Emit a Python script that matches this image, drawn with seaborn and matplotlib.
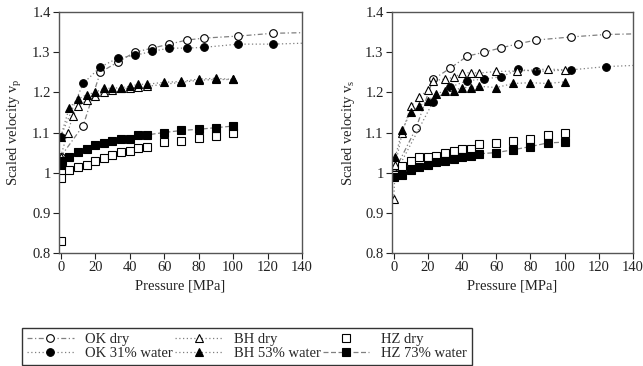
import matplotlib
matplotlib.use("Agg")
import matplotlib.pyplot as plt
import seaborn as sns
import numpy as np
import pandas as pd
from matplotlib.ticker import FuncFormatter, MultipleLocator

# ---------------- data: left panel (vp) ----------------
p_ok_dry = [0, 13, 23, 33, 43, 53, 63, 73, 83, 103, 123, 146]
vp_ok_dry = [1.04, 1.117, 1.25, 1.275, 1.30, 1.31, 1.32, 1.33, 1.335, 1.34, 1.347, 1.349]
p_ok_wet = [0, 13, 23, 33, 43, 53, 63, 73, 83, 103, 123, 146]
vp_ok_wet = [1.09, 1.222, 1.263, 1.285, 1.292, 1.302, 1.31, 1.31, 1.312, 1.32, 1.32, 1.323]
p_bh_dry = [0, 4, 7, 10, 15, 20, 25, 30, 35, 40, 45, 50, 70, 80, 90, 100]
vp_bh_dry = [1.04, 1.10, 1.14, 1.165, 1.18, 1.19, 1.20, 1.205, 1.21, 1.21, 1.213, 1.215, 1.225, 1.23, 1.232, 1.232]
p_bh_wet = [0, 5, 10, 15, 20, 25, 30, 35, 40, 45, 50, 60, 70, 80, 90, 100]
vp_bh_wet = [1.09, 1.162, 1.183, 1.194, 1.20, 1.21, 1.21, 1.212, 1.215, 1.22, 1.22, 1.225, 1.227, 1.233, 1.235, 1.232]
p_hz_dry = [0, 0, 5, 10, 15, 20, 25, 30, 35, 40, 45, 50, 60, 70, 80, 90, 100]
vp_hz_dry = [0.829, 0.987, 1.007, 1.013, 1.02, 1.028, 1.036, 1.044, 1.051, 1.055, 1.061, 1.065, 1.076, 1.08, 1.086, 1.092, 1.10]
p_hz_wet = [0, 1, 5, 10, 15, 20, 25, 30, 35, 40, 45, 50, 60, 70, 80, 90, 100]
vp_hz_wet = [1.02, 1.028, 1.039, 1.051, 1.059, 1.07, 1.075, 1.079, 1.084, 1.084, 1.094, 1.094, 1.10, 1.105, 1.108, 1.112, 1.116]

# ---------------- data: right panel (vs) ----------------
ps_ok_dry = [0, 13, 23, 33, 43, 53, 63, 73, 83, 104, 124, 146]
vs_ok_dry = [1.00, 1.11, 1.232, 1.26, 1.29, 1.30, 1.311, 1.321, 1.33, 1.338, 1.344, 1.346]
ps_ok_wet = [0, 23, 33, 43, 53, 63, 73, 83, 104, 124, 146]
vs_ok_wet = [0.99, 1.176, 1.213, 1.229, 1.233, 1.239, 1.257, 1.252, 1.256, 1.264, 1.268]
ps_bh_dry = [0, 1, 5, 10, 15, 20, 23, 30, 35, 40, 45, 50, 60, 72, 90, 100]
vs_bh_dry = [0.934, 1.02, 1.10, 1.165, 1.188, 1.206, 1.229, 1.233, 1.237, 1.248, 1.249, 1.248, 1.252, 1.253, 1.258, 1.256]
ps_bh_wet = [1, 5, 10, 15, 20, 25, 30, 35, 40, 45, 50, 60, 70, 80, 90, 100]
vs_bh_wet = [1.04, 1.106, 1.152, 1.166, 1.179, 1.196, 1.204, 1.204, 1.212, 1.212, 1.215, 1.212, 1.222, 1.224, 1.222, 1.226]
ps_hz_dry = [0, 5, 10, 15, 20, 25, 30, 35, 40, 45, 50, 60, 70, 80, 90, 100]
vs_hz_dry = [0.995, 1.016, 1.03, 1.039, 1.04, 1.042, 1.049, 1.055, 1.059, 1.06, 1.071, 1.075, 1.08, 1.084, 1.093, 1.10]
ps_hz_wet = [0, 5, 10, 15, 20, 25, 30, 35, 40, 45, 50, 60, 70, 80, 90, 100]
vs_hz_wet = [0.989, 0.993, 1.007, 1.013, 1.02, 1.026, 1.03, 1.035, 1.038, 1.042, 1.047, 1.05, 1.057, 1.065, 1.074, 1.076]

labels = ["OK dry", "OK 31% water", "BH dry", "BH 53% water", "HZ dry", "HZ 73% water"]
x_ticks = [0, 20, 40, 60, 80, 100, 120, 140]
y_ticks = [0.8, 0.9, 1.0, 1.1, 1.2, 1.3, 1.4]

sns.set_theme(style="ticks")
plt.rcParams["font.family"] = ["Liberation Serif", "DejaVu Serif"]
plt.rcParams["mathtext.fontset"] = "custom"
plt.rcParams["mathtext.rm"] = "Liberation Serif"
plt.rcParams["mathtext.it"] = "Liberation Serif"

styles = [
    dict(marker="o", linestyle=(0, (4, 2, 1, 2)), mfc="white"),
    dict(marker="o", linestyle=(0, (1, 2)), mfc="black"),
    dict(marker="^", linestyle=(0, (1, 2)), mfc="white"),
    dict(marker="^", linestyle=(0, (1, 2)), mfc="black"),
    dict(marker="s", linestyle="none", mfc="white"),
    dict(marker="s", linestyle=(0, (4, 2)), mfc="black"),
]

fig = plt.figure(figsize=(6.43, 3.66), dpi=100)
axL = fig.add_axes([59 / 643, 113 / 366, 243 / 643, 241 / 366])
axR = fig.add_axes([392 / 643, 113 / 366, 241 / 643, 241 / 366])

left_series = [(p_ok_dry, vp_ok_dry), (p_ok_wet, vp_ok_wet), (p_bh_dry, vp_bh_dry),
               (p_bh_wet, vp_bh_wet), (p_hz_dry, vp_hz_dry), (p_hz_wet, vp_hz_wet)]
right_series = [(ps_ok_dry, vs_ok_dry), (ps_ok_wet, vs_ok_wet), (ps_bh_dry, vs_bh_dry),
                (ps_bh_wet, vs_bh_wet), (ps_hz_dry, vs_hz_dry), (ps_hz_wet, vs_hz_wet)]

for ax, series, ylab in [(axL, left_series, r"Scaled velocity v$_\mathregular{p}$"),
                         (axR, right_series, r"Scaled velocity v$_\mathregular{s}$")]:
    for (xs, ys), lab, st in zip(series, labels, styles):
        df = pd.DataFrame({"p": xs, "v": ys})
        sns.lineplot(data=df, x="p", y="v", ax=ax, estimator=None, sort=False,
                     label=lab, color="#808080", linewidth=0.9,
                     linestyle=st["linestyle"], marker=st["marker"],
                     markersize=5.5, markerfacecolor=st["mfc"],
                     markeredgecolor="black", markeredgewidth=0.8)
    ax.set_xlim(-1, 140)
    ax.set_ylim(0.8, 1.4)
    ax.set_xticks(x_ticks)
    ax.set_yticks(y_ticks)
    ax.yaxis.set_major_formatter(FuncFormatter(lambda v, _: f"{v:g}"))
    ax.set_xlabel("Pressure [MPa]", fontsize=10.5, color="#222222")
    ax.set_ylabel(ylab, fontsize=10.5, color="#222222", labelpad=6)
    ax.tick_params(labelsize=10.5, colors="#222222", direction="out", length=4, width=0.8, pad=2)
    for s in ax.spines.values():
        s.set_visible(True)
        s.set_color("#555555")
        s.set_linewidth(1.0)
    if ax.get_legend() is not None:
        ax.get_legend().remove()

handles, labs = axL.get_legend_handles_labels()
leg = fig.legend(handles, labs, ncol=3, loc="lower left",
                 bbox_to_anchor=(22 / 643, 1 / 366, 450 / 643, 47 / 366), mode="expand",
                 frameon=True, fancybox=False, edgecolor="black", fontsize=10.5,
                 handlelength=3.2, handletextpad=0.8, labelspacing=0.05,
                 borderpad=0.35, columnspacing=1.5, borderaxespad=0)
leg.get_frame().set_linewidth(1.0)

fig.savefig("out.png", dpi=100)
